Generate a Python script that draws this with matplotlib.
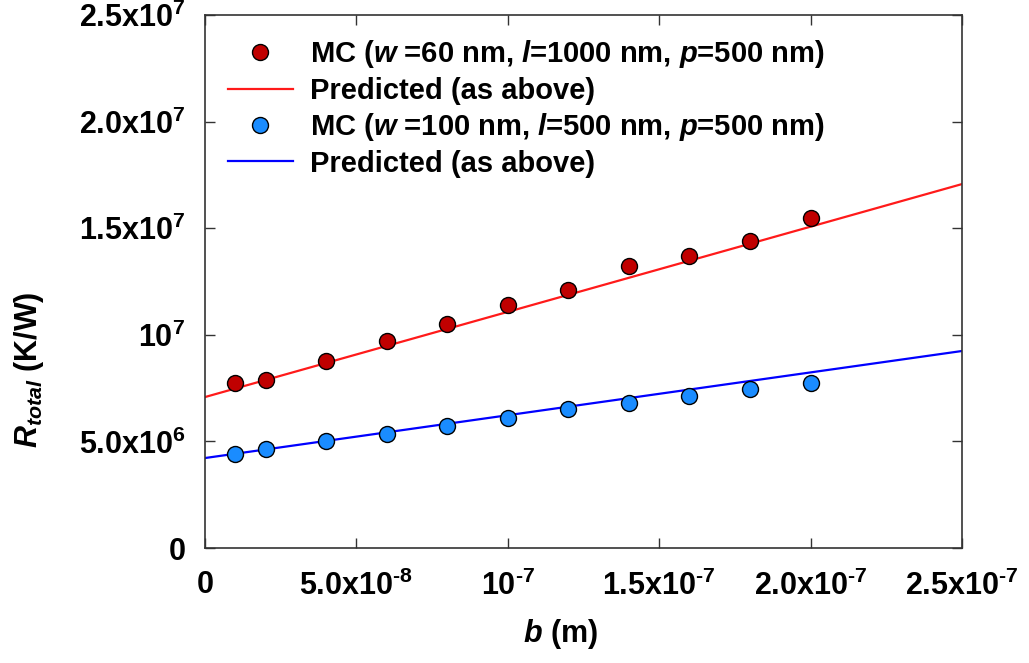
import matplotlib
matplotlib.use('Agg')
import matplotlib.pyplot as plt
from matplotlib.ticker import FixedLocator

plt.rcParams['font.family'] = 'Liberation Sans'
plt.rcParams['font.weight'] = 'bold'
plt.rcParams['mathtext.fontset'] = 'custom'
plt.rcParams['mathtext.rm'] = 'Liberation Sans:bold'
plt.rcParams['mathtext.bf'] = 'Liberation Sans:bold'
plt.rcParams['mathtext.it'] = 'Liberation Sans:italic:bold'
plt.rcParams['mathtext.default'] = 'rm'

# MC data, b in metres, R in K/W
b_mc = [1e-8, 2e-8, 4e-8, 6e-8, 8e-8, 1e-7, 1.2e-7, 1.4e-7, 1.6e-7, 1.8e-7, 2e-7]
r_mc_60 = [7.74e6, 7.88e6, 8.77e6, 9.71e6, 10.5e6, 11.4e6, 12.1e6, 13.25e6, 13.7e6, 14.4e6, 15.5e6]
r_mc_100 = [4.41e6, 4.64e6, 5.02e6, 5.35e6, 5.72e6, 6.10e6, 6.52e6, 6.80e6, 7.13e6, 7.46e6, 7.74e6]

# predicted lines (end points)
b_pred = [0, 2.5e-7]
r_pred_60 = [7.08e6, 17.07e6]
r_pred_100 = [4.22e6, 9.24e6]

x_ticks = [0, 5e-8, 1e-7, 1.5e-7, 2e-7, 2.5e-7]
x_labels = ['0', r'5.0x10$^{\text{-}8}$', r'10$^{\text{-}7}$', r'1.5x10$^{\text{-}7}$',
            r'2.0x10$^{\text{-}7}$', r'2.5x10$^{\text{-}7}$']
y_ticks = [0, 5e6, 1e7, 1.5e7, 2e7, 2.5e7]
y_labels = ['0', '5.0x10$^{6}$', '10$^{7}$', '1.5x10$^{7}$', '2.0x10$^{7}$', '2.5x10$^{7}$']

fig = plt.figure(figsize=(10.29, 6.63), dpi=100)
ax = fig.add_axes([205 / 1029, 1 - 548 / 663, (962 - 205) / 1029, (548 - 15) / 663])

ax.plot(b_mc, r_mc_60, 'o', color='#c00000', mec='black', mew=1.0, ms=11.5,
        label=r'MC ($\mathit{w}$ =60 nm, $\mathit{l}$=1000 nm, $\mathit{p}$=500 nm)', zorder=3)
ax.plot(b_pred, r_pred_60, '-', color='#ff1a1a', lw=1.6, label='Predicted (as above)', zorder=2)
ax.plot(b_mc, r_mc_100, 'o', color='#1a8cff', mec='black', mew=1.0, ms=11.5,
        label=r'MC ($\mathit{w}$ =100 nm, $\mathit{l}$=500 nm, $\mathit{p}$=500 nm)', zorder=3)
ax.plot(b_pred, r_pred_100, '-', color='#0000ff', lw=1.6, label='Predicted (as above)', zorder=2)

ax.set_xlim(0, 2.5e-7)
ax.set_ylim(0, 2.5e7)
ax.xaxis.set_major_locator(FixedLocator(x_ticks))
ax.yaxis.set_major_locator(FixedLocator(y_ticks))
ax.set_xticklabels(x_labels)
ax.set_yticklabels(y_labels)
ax.tick_params(direction='in', top=True, right=True, length=7, width=1,
               labelsize=22, color='#333333')
ax.tick_params(axis='x', pad=16)
ax.tick_params(axis='y', pad=14)
for s in ax.spines.values():
    s.set_linewidth(1.2)
    s.set_color('#333333')

ax.set_xlabel(r'$\mathit{b}$ (m)', fontsize=22, fontweight='bold')
ax.set_ylabel(r'$\mathit{R}_{\mathit{total}}$ (K/W)', fontsize=22, fontweight='bold')
ax.xaxis.set_label_coords(0.469, -0.13)
ax.yaxis.set_label_coords(-0.21, 0.334)

leg = ax.legend(loc='upper left', frameon=False, fontsize=21, handlelength=2.2,
                handletextpad=0.6, labelspacing=0.22, borderaxespad=0.4,
                bbox_to_anchor=(0.0, 1.0))

fig.savefig('out.png', dpi=100)
